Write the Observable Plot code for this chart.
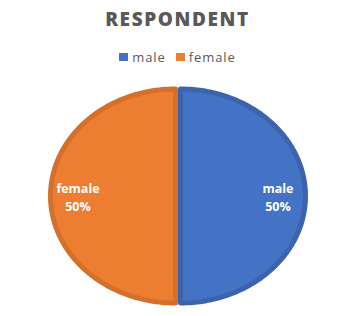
<!DOCTYPE html>
<html>
<head>
<meta charset="utf-8">
<script src="https://cdn.jsdelivr.net/npm/d3@7"></script>
<script src="https://cdn.jsdelivr.net/npm/@observablehq/plot@0.6"></script>
<style>
  html, body { margin: 0; padding: 0; background: #fff; }
  #wrap { position: relative; width: 355px; height: 316px; font-family: "Open Sans", sans-serif; overflow: hidden; }
  #title { position: absolute; left: 0; width: 355px; top: 8px; text-align: center; font-size: 19px; line-height: 22px; font-weight: 800; color: #595959; letter-spacing: 1.6px; }
  #legend { position: absolute; left: 0; width: 355px; top: 48px; height: 18px; display: flex; justify-content: center; align-items: center; font-size: 13px; color: #595959; letter-spacing: 0.9px; }
  #legend .item { display: flex; align-items: center; margin: 0 5px; }
  #legend .sw { width: 9px; height: 8px; margin-right: 4px; }
  #chart { position: absolute; left: 0; top: 74px; }
</style>
</head>
<body>
<div id="wrap">
  <div id="title">RESPONDENT</div>
  <div id="legend"></div>
  <div id="chart"></div>
</div>
<script>
const title = "RESPONDENT";
const categories = ["male", "female"];
const values = [50, 50];
const fills = ["#4472C4", "#ED7D31"];
const borders = ["#3B64AD", "#D5702B"];

// legend
const legend = document.getElementById("legend");
categories.forEach((c, i) => {
  const it = document.createElement("div");
  it.className = "item";
  const sw = document.createElement("div");
  sw.className = "sw";
  sw.style.background = fills[i];
  const tx = document.createElement("span");
  tx.textContent = c;
  it.appendChild(sw); it.appendChild(tx);
  legend.appendChild(it);
});

const total = d3.sum(values);
const arcs = d3.pie().sort(null).value(d => d)(values);

const marks = [];
const labels = [];
arcs.forEach((a, i) => {
  const pts = [{x: 0, y: 0}];
  const N = 120;
  for (let k = 0; k <= N; k++) {
    const ang = a.startAngle + (a.endAngle - a.startAngle) * k / N;
    pts.push({x: Math.sin(ang), y: Math.cos(ang)});
  }
  const mid = (a.startAngle + a.endAngle) / 2;
  const side = Math.sign(Math.round(Math.sin(mid) * 1000)) || 0;
  marks.push(Plot.line(pts, {
    x: "x", y: "y", curve: "linear-closed",
    fill: fills[i], stroke: borders[i], strokeWidth: 5,
    strokeLinejoin: "round", dx: side * 2.5
  }));
  labels.push({
    x: Math.sin(mid) * 0.8,
    y: Math.cos(mid) * 0.8,
    text: `${categories[i]}\n${Math.round(values[i] / total * 100)}%`
  });
});

marks.push(Plot.text(labels, {
  x: "x", y: "y", text: "text", fill: "white",
  fontWeight: "bold", fontSize: 12.5, lineHeight: 1.45, textAnchor: "middle"
}));

const chart = Plot.plot({
  width: 355,
  height: 242,
  marginLeft: 52.5,
  marginRight: 52.5,
  marginTop: 14.5,
  marginBottom: 13.5,
  x: {domain: [-1, 1], axis: null},
  y: {domain: [-1, 1], axis: null},
  style: {fontFamily: "Open Sans, sans-serif", background: "white"},
  marks
});
document.getElementById("chart").appendChild(chart);
</script>
</body>
</html>
